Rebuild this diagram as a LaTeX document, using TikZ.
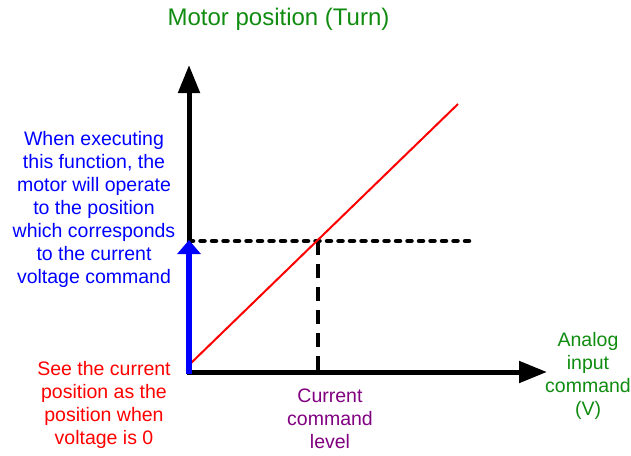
\documentclass[tikz,border=0pt]{standalone}
\usepackage{fontspec}
\setmainfont{Liberation Sans}
\usetikzlibrary{arrows.meta}
\definecolor{tgreen}{RGB}{16,140,16}
\definecolor{tpurple}{RGB}{128,0,128}
\begin{document}
\begin{tikzpicture}[x=1pt,y=-1pt,
  lbl/.style={align=center,inner sep=0pt,font=\fontsize{19.5}{23}\selectfont},
  axis/.style={line width=5pt,-{Triangle[length=28pt,width=21pt]}},
]
\useasboundingbox (0,0) rectangle (631,455);
\coordinate (O) at (189,372);
\coordinate (Ytip) at (189,65);
\coordinate (Xtip) at (547,372);
\coordinate (Rend) at (458,104);
\coordinate (Rstart) at (189,365);
\coordinate (Hend) at (470,241);
\coordinate (Hstart) at (189,241);
\coordinate (Vtop) at (318,241);
\coordinate (Vbot) at (318,372);
\coordinate (Btip) at (189,240);
% dashed guides
\draw[line width=4.5pt,line cap=round,dash pattern=on 4pt off 7.5pt] (Hstart) -- (Hend);
\draw[line width=4.5pt,dash pattern=on 14pt off 9pt] (Vtop) -- (Vbot);
% red line
\draw[red,line width=2pt] (Rstart) -- (Rend);
% axes
\draw[axis] ([yshift=2.5pt]O) -- (Ytip);
\draw[axis] ([xshift=-2.5pt]O) -- (Xtip);
% blue arrow
\draw[blue,line width=6.5pt,-{Triangle[length=14pt,width=23pt]}] ([yshift=-2pt]O) -- (Btip);
% texts
\node[lbl,text=tgreen,font=\fontsize{24}{28}\selectfont] (title) at (278.5,19) {Motor position (Turn)};
\node[lbl,text=blue] (blue) at (94,209) {When executing\\this function, the\\motor will operate\\to the position\\which corresponds\\to the current\\voltage command};
\node[lbl,text=red] (redt) at (104,405) {See the current\\position as the\\position when\\voltage is 0};
\node[lbl,text=tpurple] (cur) at (330,419) {Current\\command\\level};
\node[lbl,text=tgreen] (ana) at (588,376) {Analog\\input\\command\\(V)};
\end{tikzpicture}
\end{document}
